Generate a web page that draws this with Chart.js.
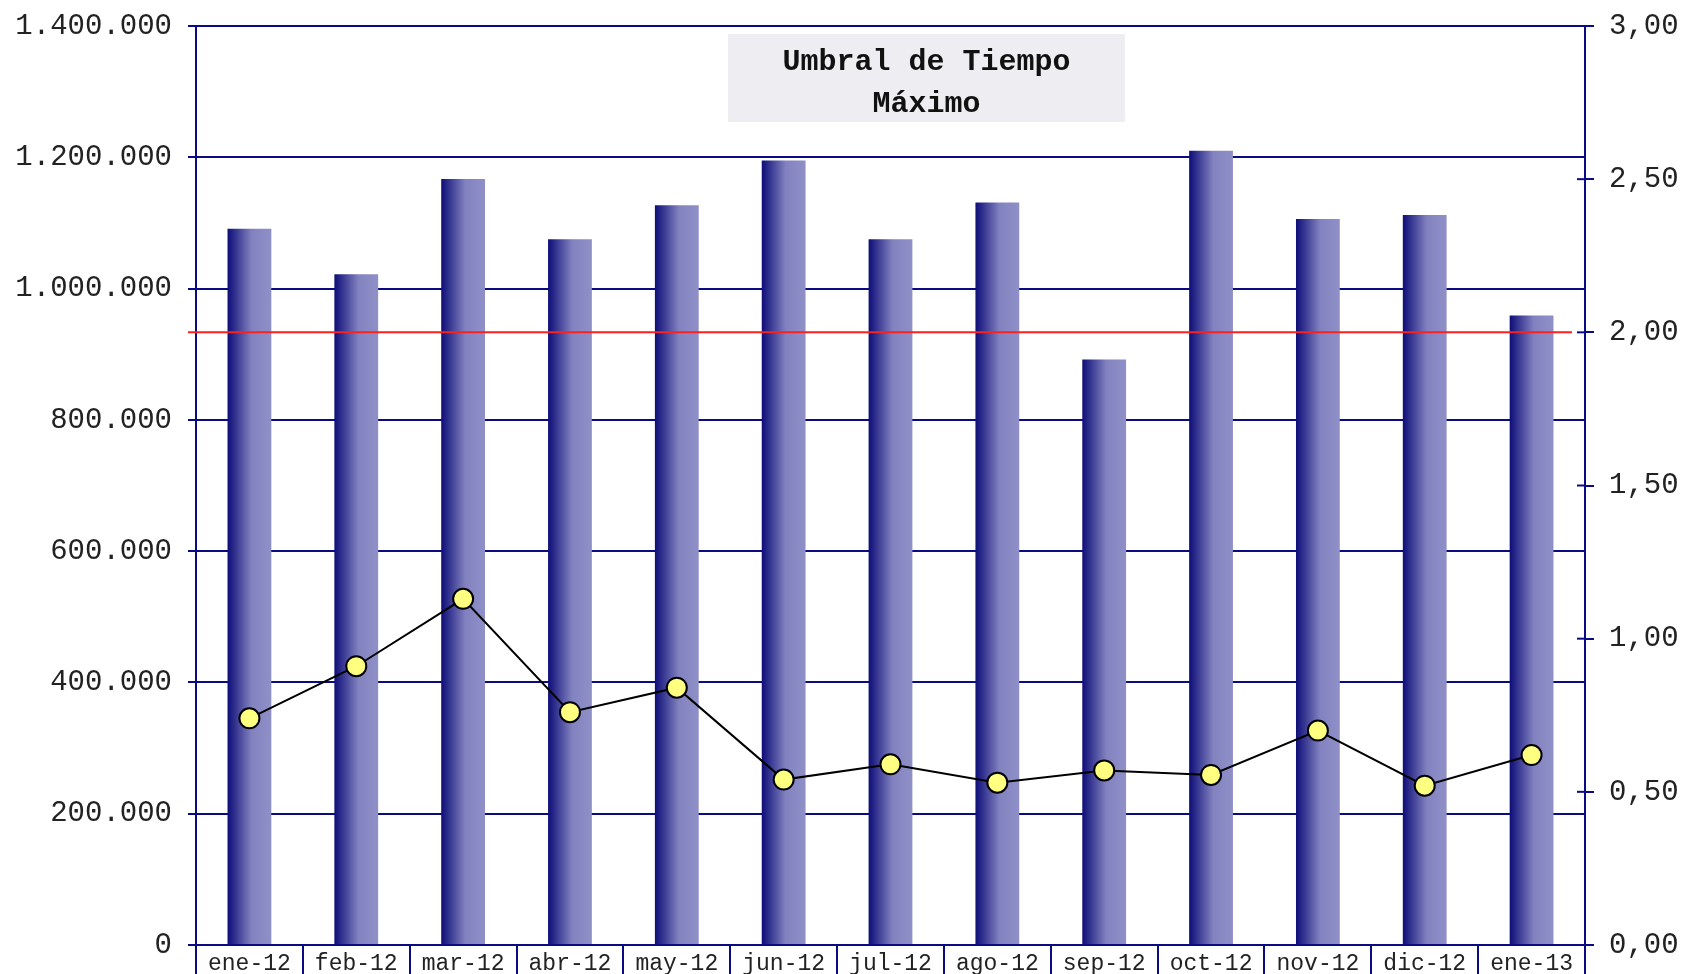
<!DOCTYPE html>
<html>
<head>
<meta charset="utf-8">
<script src="https://cdn.jsdelivr.net/npm/chart.js@4"></script>
<style>
  html, body { margin: 0; padding: 0; background: #ffffff; overflow: hidden; }
  #wrap { width: 1684px; height: 974px; position: relative; }
</style>
</head>
<body>
<div id="wrap"><canvas id="c" width="1684" height="974"></canvas></div>
<script>
// ---- data ----
const categories = ['ene-12','feb-12','mar-12','abr-12','may-12','jun-12','jul-12','ago-12','sep-12','oct-12','nov-12','dic-12','ene-13'];
const barValues = [1091000, 1022000, 1167000, 1075000, 1127000, 1195000, 1075000, 1131000, 892000, 1210000, 1106000, 1112000, 959000];
const lineValues = [0.74, 0.91, 1.13, 0.76, 0.84, 0.54, 0.59, 0.53, 0.57, 0.555, 0.70, 0.52, 0.62];
const thresholdValue = 2.0;
const titleLines = ['Umbral de Tiempo', 'Máximo'];
const leftAxis = { min: 0, max: 1400000, step: 200000 };
const rightAxis = { min: 0, max: 3, step: 0.5 };

const NAVY = '#0a0a82';
const FONT = "'Liberation Mono', 'Courier New', monospace";
const BAR_PCT = 0.41;

function fmtThousands(v) {
  return String(Math.round(v)).replace(/\B(?=(\d{3})+(?!\d))/g, '.');
}
function fmtDec(v) {
  return Number(v).toFixed(2).replace('.', ',');
}

const barGradient = (ctx) => {
  const chart = ctx.chart;
  const area = chart.chartArea;
  if (!area) return '#8080c0';
  const xs = chart.scales.x;
  const cx = xs.getPixelForValue(ctx.dataIndex);
  const w = (xs.width / categories.length) * BAR_PCT;
  const g = chart.ctx.createLinearGradient(cx - w / 2, 0, cx + w / 2, 0);
  g.addColorStop(0, '#0d0d78');
  g.addColorStop(0.55, '#8282c0');
  g.addColorStop(1, '#9090c8');
  return g;
};

const noPad = (scale) => {
  scale.paddingTop = 0;
  scale.paddingBottom = 0;
  scale.paddingLeft = 0;
  scale.paddingRight = 0;
};

const overlayPlugin = {
  id: 'overlay',
  afterDatasetsDraw(chart) {
    const c = chart.ctx;
    const area = chart.chartArea;
    const y1 = chart.scales.y1;
    // threshold line
    const ty = y1.getPixelForValue(thresholdValue);
    c.save();
    c.strokeStyle = '#ff1f1f';
    c.lineWidth = 2;
    c.beginPath();
    c.moveTo(area.left - 8, ty);
    c.lineTo(area.right - 13, ty);
    c.stroke();
    // inner part of right-axis tick marks (crossing ticks)
    c.strokeStyle = NAVY;
    c.lineWidth = 2;
    y1.ticks.forEach((t) => {
      const py = y1.getPixelForValue(t.value);
      c.beginPath();
      c.moveTo(y1.left - 8, py);
      c.lineTo(y1.left, py);
      c.stroke();
    });
    // title box
    const bx = area.left + 532, by = 34, bw = 397, bh = 88;
    c.fillStyle = '#eeeef2';
    c.fillRect(bx, by, bw, bh);
    c.fillStyle = '#111111';
    c.font = "bold 30px " + FONT;
    c.textAlign = 'center';
    c.textBaseline = 'middle';
    c.fillText(titleLines[0], bx + bw / 2, 62);
    c.fillText(titleLines[1], bx + bw / 2, 104);
    c.restore();
  }
};

new Chart(document.getElementById('c'), {
  data: {
    labels: categories,
    datasets: [
      {
        type: 'line',
        label: 'Tiempo',
        data: lineValues,
        yAxisID: 'y1',
        order: 1,
        borderColor: '#000000',
        borderWidth: 2,
        pointRadius: 10,
        pointBorderWidth: 2,
        pointBackgroundColor: '#ffff80',
        pointBorderColor: '#000000',
        tension: 0,
        fill: false
      },
      {
        type: 'bar',
        label: 'Volumen',
        data: barValues,
        yAxisID: 'y',
        order: 2,
        backgroundColor: barGradient,
        borderWidth: 0,
        barPercentage: BAR_PCT,
        categoryPercentage: 1.0
      }
    ]
  },
  options: {
    responsive: false,
    devicePixelRatio: 1,
    animation: false,
    events: [],
    layout: { padding: { top: 26, left: 0, right: 0, bottom: 0 } },
    plugins: {
      legend: { display: false },
      title: { display: false },
      tooltip: { enabled: false }
    },
    scales: {
      x: {
        type: 'category',
        offset: true,
        grid: {
          display: true,
          offset: true,
          drawOnChartArea: false,
          drawTicks: true,
          tickLength: 29,
          color: NAVY,
          lineWidth: 2
        },
        border: { display: true, color: NAVY, width: 2 },
        ticks: {
          color: '#222222',
          font: { family: FONT, size: 23 },
          padding: -24,
          maxRotation: 0,
          autoSkip: false
        },
        afterFit(scale) { scale.height = 29; noPad(scale); }
      },
      y: {
        position: 'left',
        min: leftAxis.min,
        max: leftAxis.max,
        grid: {
          color: NAVY,
          lineWidth: 2,
          tickLength: 8,
          drawTicks: true
        },
        border: { display: true, color: NAVY, width: 2 },
        ticks: {
          stepSize: leftAxis.step,
          color: '#222222',
          font: { family: FONT, size: 29 },
          padding: 16,
          callback: (v) => fmtThousands(v)
        },
        afterFit(scale) { scale.width = 196; noPad(scale); }
      },
      y1: {
        position: 'right',
        min: rightAxis.min,
        max: rightAxis.max,
        grid: {
          drawOnChartArea: false,
          color: NAVY,
          lineWidth: 2,
          tickLength: 9,
          drawTicks: true
        },
        border: { display: true, color: NAVY, width: 2 },
        ticks: {
          stepSize: rightAxis.step,
          color: '#222222',
          font: { family: FONT, size: 29 },
          padding: 15,
          callback: (v) => fmtDec(v)
        },
        afterFit(scale) { scale.width = 99; noPad(scale); }
      }
    }
  },
  plugins: [overlayPlugin]
});
</script>
</body>
</html>
